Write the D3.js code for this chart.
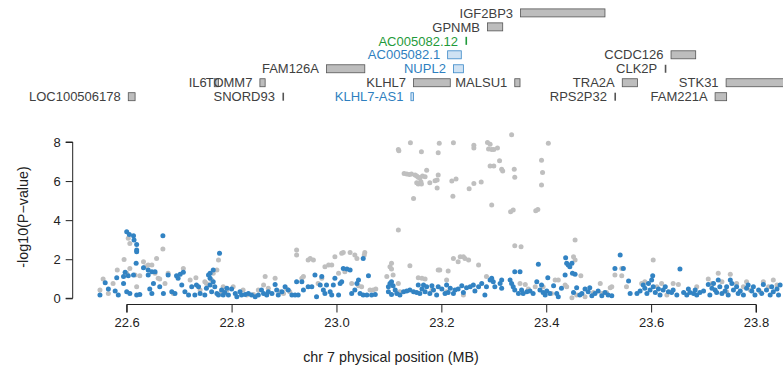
<!DOCTYPE html>
<html>
<head>
<meta charset="utf-8">
<script src="https://cdn.jsdelivr.net/npm/d3@7"></script>
<style>
  body { margin: 0; background: #fff; }
  svg text { font-family: "Liberation Sans", Arial, Helvetica, sans-serif; }
</style>
</head>
<body>
<div id="plot"></div>
<script>
// regional association plot, chr7 ~22.5-23.9 MB

// genes: name, start (MB), end (MB), track row (0 = bottom), kind
const geneNames = ["LOC100506178", "IL6", "TOMM7", "SNORD93", "FAM126A", "KLHL7-AS1", "KLHL7",
  "NUPL2", "AC005082.1", "AC005082.12", "GPNMB", "IGF2BP3", "MALSU1", "RPS2P32", "TRA2A",
  "CLK2P", "CCDC126", "FAM221A", "STK31"];
const geneStart = [22.603, 22.767, 22.854, 22.897, 22.981, 23.142, 23.147, 23.223, 23.212, 23.246,
  23.288, 23.351, 23.340, 23.530, 23.545, 23.626, 23.638, 23.722, 23.743];
const geneEnd = [22.616, 22.775, 22.864, 22.898, 23.054, 23.147, 23.217, 23.242, 23.238, 23.248,
  23.317, 23.512, 23.350, 23.532, 23.574, 23.628, 23.685, 23.744, 23.950];
const geneRow = [0, 1, 1, 0, 2, 0, 1, 2, 3, 4, 5, 6, 1, 0, 1, 2, 3, 0, 1];
const geneKind = ["grey", "grey", "grey", "grey", "grey", "blue", "grey", "blue", "blue", "green",
  "grey", "grey", "grey", "grey", "grey", "grey", "grey", "grey", "grey"];

// SNPs [position MB, -log10 p]
const blueSnps = [
  [22.600,3.41],[22.605,3.27],[22.613,3.20],[22.614,2.98],[22.619,2.76],[22.619,2.47],[22.619,2.38],
  [22.669,3.20],[22.777,2.30],[22.618,1.79],[22.632,1.57],[22.641,1.45],[22.648,1.36],[22.654,1.36],
  [22.597,1.33],[22.581,1.05],[22.594,1.11],[22.603,1.16],[22.613,1.19],[22.559,0.80],[22.549,0.17],
  [22.565,0.47],[22.578,0.37],[22.584,0.17],[22.594,0.76],[22.600,0.34],[22.606,0.25],[22.619,0.17],
  [22.625,0.20],[22.641,1.19],[22.644,0.47],[22.648,0.25],[22.651,0.76],[22.663,0.59],[22.670,0.25],
  [22.679,1.19],[22.686,0.34],[22.692,0.25],[22.695,1.16],[22.698,1.02],[22.702,1.23],[22.705,0.68],
  [22.708,1.33],[22.711,0.34],[22.718,0.17],[22.724,0.59],[22.730,0.17],[22.733,0.68],[22.737,0.59],
  [22.740,0.25],[22.749,0.17],[22.752,0.51],[22.756,1.19],[22.759,1.02],[22.759,0.68],[22.762,0.34],
  [22.765,0.85],[22.768,0.59],[22.772,0.25],[22.775,0.17],[22.781,0.42],[22.784,0.17],[22.787,0.30],
  [22.791,0.51],[22.794,0.17],[22.765,1.45],[22.759,1.28],
  [22.800,0.47],[22.807,0.25],[22.810,0.08],[22.816,0.34],[22.819,0.17],[22.826,0.20],[22.832,0.25],
  [22.838,0.17],[22.845,0.08],[22.851,0.17],[22.857,0.42],[22.861,0.25],[22.867,0.17],[22.870,0.34],
  [22.877,0.25],[22.883,0.71],[22.886,0.42],[22.889,0.17],[22.896,0.34],[22.902,0.59],[22.908,0.42],
  [22.915,0.17],[22.921,0.17],[22.924,0.85],[22.927,0.17],[22.934,0.85],[22.937,0.42],[22.946,0.59],
  [22.953,0.59],[22.959,1.19],[22.962,0.08],[22.969,0.68],[22.972,1.11],[22.975,0.42],[22.978,0.25],
  [22.981,0.68],[22.988,0.34],[22.991,0.17],[22.994,0.68],[22.997,1.02],[23.004,0.17],[23.007,0.76],
  [23.010,0.85],[23.013,1.53],[23.020,1.50],[23.026,1.45],[23.029,0.25],[23.035,0.42],[23.039,0.76],
  [23.042,0.94],[23.045,0.25],
  [23.051,2.04],[23.061,1.16],[23.051,0.17],[23.058,0.17],[23.067,0.17],[23.074,0.20],[23.099,0.59],
  [23.102,0.76],[23.105,0.85],[23.108,0.64],[23.099,0.34],[23.105,0.20],[23.112,0.42],[23.115,0.25],
  [23.121,0.17],[23.128,0.34],[23.134,0.37],[23.140,0.42],[23.147,0.34],[23.153,0.30],[23.156,0.68],
  [23.159,0.25],[23.163,0.47],[23.166,0.68],[23.169,0.34],[23.172,0.59],[23.178,0.25],[23.182,0.64],
  [23.185,0.42],[23.191,0.17],[23.194,0.59],[23.201,0.47],[23.207,0.25],[23.210,0.68],[23.213,0.30],
  [23.217,0.51],[23.223,0.25],[23.226,0.42],[23.232,0.47],[23.239,0.64],[23.242,0.30],[23.248,0.54],
  [23.255,0.59],[23.261,0.68],[23.264,0.37],[23.271,0.59],[23.277,0.76],[23.283,0.17],[23.286,0.59],
  [23.293,0.94],[23.296,1.02],[23.299,0.85],[23.302,0.59],
  [23.315,0.94],[23.312,0.76],[23.315,0.51],[23.331,0.94],[23.334,0.76],[23.337,0.59],[23.340,1.36],
  [23.340,0.42],[23.347,0.25],[23.350,1.36],[23.353,0.42],[23.356,0.25],[23.363,0.34],[23.369,0.37],
  [23.375,0.25],[23.382,0.85],[23.385,1.74],[23.388,0.42],[23.391,0.68],[23.394,0.30],[23.398,0.17],
  [23.401,0.37],[23.403,1.05],[23.407,0.25],[23.414,0.64],[23.420,0.25],[23.423,0.08],[23.429,0.51],
  [23.436,1.19],[23.437,2.08],[23.439,1.79],[23.442,1.70],[23.445,1.62],[23.449,1.79],[23.450,1.28],
  [23.455,1.23],[23.452,0.30],[23.458,0.54],[23.464,0.17],[23.468,0.25],[23.474,0.47],[23.480,0.34],
  [23.483,0.54],[23.487,0.13],[23.493,0.25],[23.499,0.37],[23.506,0.13],[23.512,0.30],[23.518,0.17],
  [23.525,0.13],[23.531,1.53],[23.541,2.21],[23.547,1.53],[23.557,0.88],[23.560,0.25],
  [23.573,0.25],[23.579,0.37],[23.585,0.68],[23.588,0.51],[23.592,0.25],[23.595,0.76],[23.598,0.42],
  [23.601,0.94],[23.603,1.16],[23.604,0.59],[23.608,0.30],[23.614,0.47],[23.617,0.17],[23.623,0.42],
  [23.627,0.59],[23.633,0.34],[23.639,0.30],[23.642,0.42],[23.649,0.17],[23.655,1.50],[23.662,0.30],
  [23.668,0.17],[23.671,0.47],[23.674,0.30],[23.681,0.25],[23.684,0.42],[23.687,0.17],[23.693,0.30],
  [23.700,0.37],[23.709,0.71],[23.712,0.17],[23.716,0.51],[23.719,0.76],[23.722,0.42],[23.725,0.30],
  [23.728,0.94],[23.731,0.59],[23.735,0.25],[23.741,0.37],[23.744,0.59],[23.747,0.17],[23.751,0.94],
  [23.754,0.76],[23.757,0.42],[23.763,0.59],[23.766,0.25],[23.770,0.37],[23.776,0.17],[23.782,0.51],
  [23.785,0.68],[23.792,0.37],[23.795,0.59],[23.798,0.17],[23.805,0.42],[23.811,0.25],[23.814,0.71],
  [23.820,0.42],[23.827,0.17],[23.830,0.59],[23.833,0.34],[23.840,0.47],[23.843,0.17],[23.846,0.68]
];

const greySnps = [
  [22.603,3.07],[22.606,2.81],[22.549,0.42],[22.555,0.99],[22.565,0.25],[22.574,0.76],[22.582,1.45],
  [22.595,1.99],[22.600,1.28],[22.606,1.53],[22.616,1.19],[22.619,0.59],[22.625,1.16],[22.632,1.87],
  [22.635,1.62],[22.641,1.70],[22.648,1.70],[22.654,1.28],[22.657,2.04],[22.660,1.02],[22.663,0.99],
  [22.669,2.52],[22.673,0.76],[22.679,1.28],[22.689,0.25],[22.708,1.53],[22.721,0.94],[22.732,1.05],
  [22.740,0.42],[22.749,0.85],[22.752,0.76],[22.756,0.68],[22.762,0.94],[22.765,1.28],[22.775,1.96],
  [22.781,0.34],[22.784,0.59],[22.791,0.42],[22.772,1.45],
  [22.803,0.59],[22.822,0.42],[22.829,0.17],[22.842,0.20],[22.851,0.42],[22.861,0.68],[22.864,1.11],
  [22.870,0.51],[22.883,1.02],[22.892,0.34],[22.899,0.25],[22.905,0.47],[22.911,0.34],[22.924,2.47],
  [22.924,2.21],[22.934,1.02],[22.937,1.11],[22.946,1.96],[22.950,2.04],[22.956,1.96],[22.965,0.76],
  [22.972,1.02],[22.978,1.62],[22.985,1.70],[22.991,1.70],[22.997,2.13],[23.004,1.28],[23.010,2.30],
  [23.013,2.35],[23.016,1.36],[23.026,2.35],[23.029,0.76],[23.035,2.21],[23.039,2.04],[23.042,0.64],
  [23.048,0.59],
  [23.054,2.35],[23.053,2.21],[23.064,0.42],[23.070,0.42],[23.075,0.47],[23.096,1.11],[23.102,1.62],
  [23.105,1.79],[23.105,1.50],[23.108,1.19],[23.118,3.49],[23.118,0.76],[23.121,0.34],[23.140,1.67],
  [23.156,1.05],[23.163,1.02],[23.169,0.99],[23.182,0.42],[23.194,1.45],[23.197,1.45],[23.210,0.94],
  [23.213,1.40],[23.223,2.04],[23.232,1.87],[23.236,2.13],[23.242,2.13],[23.245,2.04],[23.252,1.96],
  [23.271,1.70],[23.286,1.11],[23.210,0.34],[23.242,0.17],
  [23.340,2.69],[23.352,2.64],[23.350,0.76],[23.360,0.71],[23.366,0.47],[23.379,0.59],[23.394,0.59],
  [23.410,0.25],[23.417,0.94],[23.423,0.94],[23.436,0.68],[23.439,0.59],[23.449,0.03],[23.452,2.13],
  [23.455,2.98],[23.455,1.96],[23.458,0.17],[23.466,1.16],[23.474,0.08],[23.490,0.30],[23.503,0.76],
  [23.506,0.25],[23.515,0.30],[23.522,0.54],[23.525,0.59],[23.531,1.19],[23.544,1.53],[23.544,1.16],
  [23.553,0.59],
  [23.582,0.76],[23.588,0.85],[23.604,1.96],[23.611,0.59],[23.620,0.76],[23.630,0.17],[23.642,0.76],
  [23.652,0.71],[23.687,0.59],[23.709,0.99],[23.716,0.76],[23.728,1.28],[23.735,0.85],[23.744,0.34],
  [23.751,1.23],[23.763,0.76],[23.776,0.59],[23.782,0.85],[23.789,0.42],[23.808,0.34],[23.814,0.85],
  [23.824,0.59],[23.833,0.94],[23.840,0.68],
  // the high cluster
  [23.118,7.62],[23.119,7.55],[23.141,7.96],[23.162,7.50],[23.196,7.93],[23.194,7.45],[23.223,7.96],
  [23.262,7.84],[23.262,7.69],[23.288,7.98],[23.293,7.89],[23.290,7.64],[23.296,7.62],[23.300,7.62],
  [23.307,7.69],[23.334,8.37],[23.404,7.93],[23.311,7.04],[23.293,6.77],[23.300,6.77],[23.315,6.60],
  [23.317,6.51],[23.339,6.61],[23.340,6.19],[23.391,7.07],[23.393,6.44],[23.391,5.80],[23.129,6.39],
  [23.134,6.36],[23.139,6.34],[23.143,6.36],[23.150,6.31],[23.153,6.26],[23.156,6.19],[23.159,6.14],
  [23.164,6.26],[23.169,6.22],[23.161,5.97],[23.153,5.91],[23.156,5.85],[23.162,5.85],[23.172,6.56],
  [23.178,5.91],[23.188,6.02],[23.192,6.05],[23.194,6.31],[23.192,5.64],[23.220,6.00],[23.228,6.10],
  [23.253,5.61],[23.262,5.88],[23.276,5.95],[23.222,5.22],[23.147,5.11],[23.296,4.77],[23.332,4.43],
  [23.337,4.52],[23.380,4.48],[23.384,4.55]
];

const xTicks = [22.6, 22.8, 23.0, 23.2, 23.4, 23.6, 23.8];
const yTicks = [0, 2, 4, 6, 8];

(function(){
  const svgWidth = 783;
  const svgHeight = 371;

  const svg = d3.select("#plot").append("svg")
    .attr("width", svgWidth).attr("height", svgHeight);

  const x = d3.scaleLinear().domain([22.6, 23.8]).range([126.7, 756]);
  const y = d3.scaleLinear().domain([0, 8]).range([298.3, 142]);
  const rowY = d3.scaleLinear().domain([0, 6]).range([96.7, 12.9]);

  const kindText = { grey: "#404040", blue: "#2f7fc0", green: "#1f9a3a" };
  const kindFill = { grey: "#bdbdbd", blue: "#cfe2f3", green: "#1f9a3a" };
  const kindStroke = { grey: "#555555", blue: "#3a88c8", green: "#1f9a3a" };

  // gene track
  const genes = geneNames.map((n, i) => ({
    name: n, start: geneStart[i], end: geneEnd[i], row: geneRow[i], kind: geneKind[i]
  }));
  const geneG = svg.append("g");
  genes.forEach(function(g){
    let x0 = x(g.start), x1 = x(g.end);
    let w = Math.max(x1 - x0, 1.6);
    let cy = rowY(g.row);
    geneG.append("rect")
      .attr("x", x0).attr("y", cy - 4)
      .attr("width", w).attr("height", 8)
      .attr("fill", w < 2 ? kindStroke[g.kind] : kindFill[g.kind])
      .attr("stroke", w < 2 ? "none" : kindStroke[g.kind])
      .attr("stroke-width", 0.8);
    geneG.append("text")
      .attr("x", x0 - 7.5).attr("y", cy)
      .attr("dy", "0.36em")
      .attr("text-anchor", "end")
      .attr("font-size", 13)
      .attr("fill", kindText[g.kind])
      .text(g.name);
  });

  // points, grey under blue
  const ptG = svg.append("g");
  ptG.selectAll("circle.grey").data(greySnps).enter().append("circle")
    .attr("class", "grey")
    .attr("cx", d => x(d[0])).attr("cy", d => y(d[1]))
    .attr("r", 2.5).attr("fill", "#bfbfbf");
  ptG.selectAll("circle.blue").data(blueSnps).enter().append("circle")
    .attr("class", "blue")
    .attr("cx", d => x(d[0])).attr("cy", d => y(d[1]))
    .attr("r", 2.5).attr("fill", "#3283c3");

  // axes (R style, detached)
  const xAxis = svg.append("g")
    .attr("transform", "translate(0,304.5)")
    .call(d3.axisBottom(x).tickValues(xTicks).tickFormat(d3.format(".1f")).tickSize(8).tickPadding(5));
  const yAxis = svg.append("g")
    .attr("transform", "translate(72.7,0)")
    .call(d3.axisLeft(y).tickValues(yTicks).tickSize(7).tickPadding(5));
  [xAxis, yAxis].forEach(function(a){
    a.select(".domain").attr("stroke", "#222");
    a.selectAll(".tick line").attr("stroke", "#222");
    a.selectAll(".tick text").attr("font-size", 13).attr("fill", "#222")
      .attr("font-family", "Liberation Sans, Arial, sans-serif");
  });
  xAxis.select(".domain").attr("d", `M${x(22.6)},8V0H${x(23.8)}V8`);
  yAxis.select(".domain").attr("d", `M-7,${y(0)}H0V${y(8)}H-7`);

  svg.append("text")
    .attr("x", 391).attr("y", 362)
    .attr("text-anchor", "middle")
    .attr("font-size", 14.3).attr("fill", "#222")
    .text("chr 7 physical position (MB)");

  svg.append("text")
    .attr("transform", "translate(27.5,217) rotate(-90)")
    .attr("text-anchor", "middle")
    .attr("font-size", 14.3).attr("fill", "#222")
    .text("-log10(P\u2212value)");
})();
</script>
</body>
</html>
